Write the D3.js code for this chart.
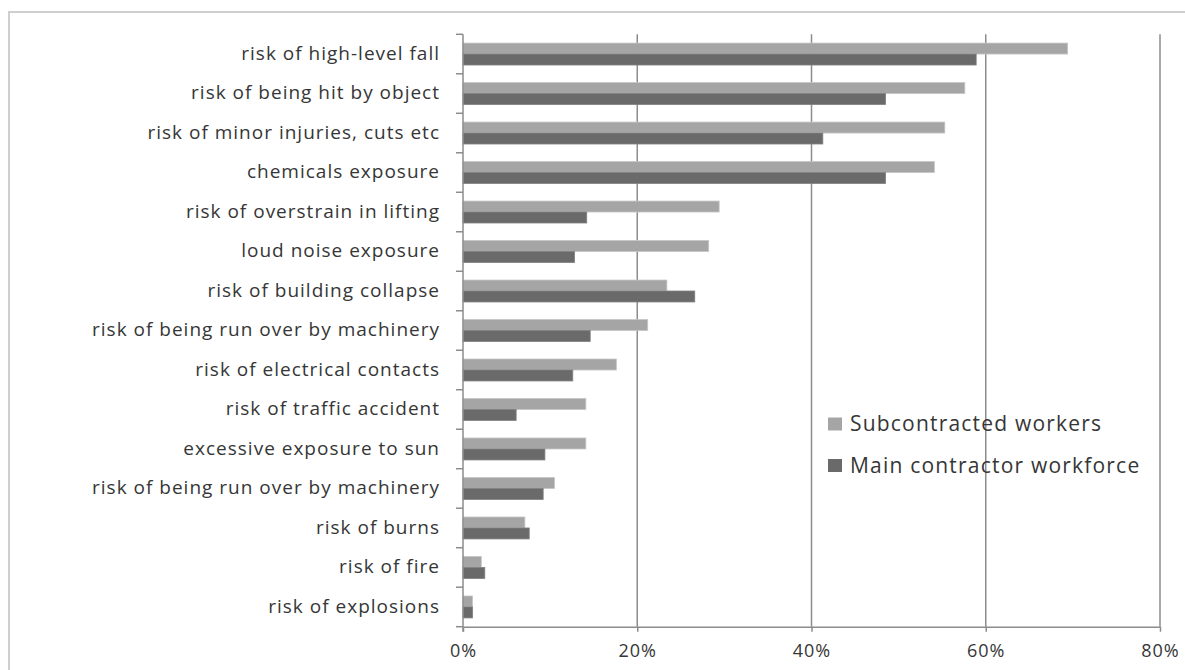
<!DOCTYPE html>
<html>
<head>
<meta charset="utf-8">
<script src="https://cdn.jsdelivr.net/npm/d3@7"></script>
<style>
  body { margin: 0; background: #fff; }
  svg { display: block; font-family: "Open Sans", sans-serif; }
</style>
</head>
<body>
<svg id="chart" width="1185" height="670"></svg>
<script>
// risk categories, top to bottom
const categories = [
  "risk of high-level fall",
  "risk of being hit by object",
  "risk of minor injuries, cuts etc",
  "chemicals exposure",
  "risk of overstrain in lifting",
  "loud noise exposure",
  "risk of building collapse",
  "risk of being run over by machinery",
  "risk of electrical contacts",
  "risk of traffic accident",
  "excessive exposure to sun",
  "risk of being run over by machinery",
  "risk of burns",
  "risk of fire",
  "risk of explosions"
];

// percent of respondents
const subcontracted = [69.4, 57.6, 55.3, 54.1, 29.4, 28.2, 23.4, 21.2, 17.6, 14.1, 14.1, 10.5, 7.1, 2.1, 1.1];
const mainContractor = [58.9, 48.5, 41.3, 48.5, 14.2, 12.8, 26.6, 14.6, 12.6, 6.1, 9.4, 9.2, 7.6, 2.5, 1.1];

const seriesNames = ["Subcontracted workers", "Main contractor workforce"];
const xTicks = [0, 0.2, 0.4, 0.6, 0.8];

const COLORS = { sub: "#a5a5a5", main: "#6a6a6a" };
const gridColor = "#8c8c8c";
const textColor = "#363636";

const svg = d3.select("#chart");

// chart frame (only top + left edges visible in the crop)
svg.append("rect")
  .attr("x", 9).attr("y", 12)
  .attr("width", 1200).attr("height", 700)
  .attr("fill", "none")
  .attr("stroke", "#cfcfcf")
  .attr("stroke-width", 2);

const plotLeft = 463, plotRight = 1160, plotTop = 34.3, plotBottom = 626.7;

const x = d3.scaleLinear().domain([0, 0.8]).range([plotLeft, plotRight]);
const y = d3.scaleBand()
  .domain(d3.range(categories.length))
  .range([plotTop, plotBottom])
  .paddingInner(0)
  .paddingOuter(0);
const ySub = d3.scaleBand()
  .domain(["sub", "main"])
  .range([0, y.bandwidth()])
  .paddingInner(0)
  .paddingOuter(0.8);

// vertical gridlines
svg.append("g")
  .selectAll("line")
  .data(xTicks.slice(1))
  .join("line")
  .attr("x1", d => x(d)).attr("x2", d => x(d))
  .attr("y1", plotTop).attr("y2", plotBottom)
  .attr("stroke", gridColor)
  .attr("stroke-width", 1.5);

// bars
const rows = categories.map((c, i) => ({ i, sub: subcontracted[i] / 100, main: mainContractor[i] / 100 }));

const groups = svg.append("g")
  .selectAll("g")
  .data(rows)
  .join("g")
  .attr("transform", d => `translate(0,${y(d.i)})`);

groups.selectAll("rect")
  .data(d => ["sub", "main"].map(k => ({ key: k, value: d[k] })))
  .join("rect")
  .attr("x", x(0))
  .attr("y", d => ySub(d.key))
  .attr("width", d => x(d.value) - x(0))
  .attr("height", ySub.bandwidth())
  .attr("fill", d => COLORS[d.key])
  .attr("stroke", d => d3.color(COLORS[d.key]).brighter(0.5))
  .attr("stroke-width", 0.8);

// x axis
const xAxis = svg.append("g")
  .attr("transform", `translate(0,${plotBottom})`)
  .call(d3.axisBottom(x)
    .tickValues(xTicks)
    .tickFormat(d3.format(".0%"))
    .tickSize(5)
    .tickPadding(13)
    .tickSizeOuter(0));
xAxis.select(".domain").attr("stroke", gridColor).attr("stroke-width", 1.5);
xAxis.selectAll(".tick line").attr("stroke", gridColor).attr("stroke-width", 1.5);
xAxis.selectAll(".tick text")
  .attr("fill", textColor)
  .style("font-size", "18px")
  .style("letter-spacing", "1px")
  .style("font-family", "'Open Sans', sans-serif");

// category axis
const yAxis = svg.append("g");
yAxis.append("line")
  .attr("x1", plotLeft).attr("x2", plotLeft)
  .attr("y1", plotTop).attr("y2", plotBottom + 5)
  .attr("stroke", gridColor).attr("stroke-width", 1.5);
yAxis.selectAll(".cat-tick")
  .data(d3.range(categories.length + 1))
  .join("line")
  .attr("class", "cat-tick")
  .attr("x1", plotLeft - 7).attr("x2", plotLeft)
  .attr("y1", d => d < categories.length ? y(d) : plotBottom)
  .attr("y2", d => d < categories.length ? y(d) : plotBottom)
  .attr("stroke", gridColor).attr("stroke-width", 1.5);
yAxis.selectAll(".cat-label")
  .data(categories)
  .join("text")
  .attr("class", "cat-label")
  .attr("x", 440)
  .attr("y", (d, i) => y(i) + y.bandwidth() / 2)
  .attr("dy", "0.3em")
  .attr("text-anchor", "end")
  .attr("fill", textColor)
  .style("font-size", "19px")
  .style("letter-spacing", "1px")
  .text(d => d);

// legend (no background, gridline shows through)
const legend = svg.append("g").attr("transform", "translate(828,424)");
const legendItems = legend.selectAll("g")
  .data(seriesNames)
  .join("g")
  .attr("transform", (d, i) => `translate(0,${i * 41.5})`);
legendItems.append("rect")
  .attr("x", 0).attr("y", -6.5)
  .attr("width", 14).attr("height", 13)
  .attr("fill", (d, i) => i === 0 ? COLORS.sub : COLORS.main);
legendItems.append("text")
  .attr("x", 22)
  .attr("dy", "0.35em")
  .attr("fill", textColor)
  .style("font-size", "21px")
  .style("letter-spacing", "1.2px")
  .text(d => d);
</script>
</body>
</html>
